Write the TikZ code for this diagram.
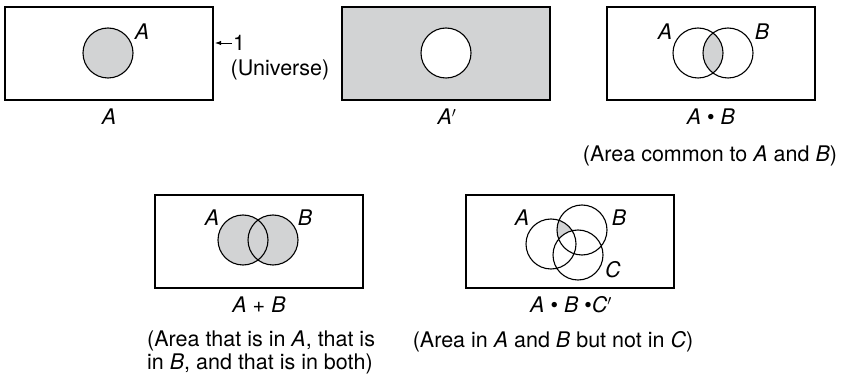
\documentclass[tikz,border=0pt]{standalone}
\usepackage{fontspec}
\setmainfont{TeX Gyre Heros}
\usetikzlibrary{arrows.meta,positioning}
\definecolor{ShadeGray}{RGB}{210,211,212}
\tikzset{
  >=Latex,
  univ/.style={draw,line width=1.1pt,minimum width=208pt,minimum height=93pt,inner sep=0pt},
  venn/.style={draw,line width=1.1pt},
  setlbl/.style={font=\fontsize{21.5}{23}\selectfont\itshape,inner sep=1pt},
  formula/.style={font=\fontsize{21.5}{23}\selectfont,inner sep=1pt},
  note/.style={font=\fontsize{21.5}{23}\selectfont,inner sep=1pt,align=left},
  pointer/.style={<-,line width=.9pt,>={Latex[length=6pt,width=4.5pt]},shorten <=1.5pt}
}
\newcommand{\rad}{25pt}

\begin{document}
\begin{tikzpicture}[x=1pt,y=-1pt]
  \useasboundingbox (0,0) rectangle (841,382);
  % top row
  \node[univ] (box1) at (109,53.5) {};
  \node[univ,fill=ShadeGray] (box2) at (446,53.5) {};
  \node[univ] (box3) at (711,53.5) {};
  % bottom row
  \node[univ] (box4) at (259,241.5) {};
  \node[univ] (box5) at (570,241.5) {};

  % A
  \coordinate (a1) at (108,53);
  \draw[venn,fill=ShadeGray] (a1) circle[radius=\rad];
  \node[setlbl] (la1) at (142,32) {A};
  \node[formula] (one) at (239,43) {1};
  \draw[pointer] (box1.east |- one) -- (one.west);
  \node[formula] (uni) at (280,70) {(Universe)};
  \node[setlbl] (f1) at (109,117) {A};

  % A'
  \coordinate (a2) at (446,53);
  \draw[venn,fill=white] (a2) circle[radius=\rad];
  \node[formula] (f2) at (447,117) {\textit{A}$'$};

  % A.B
  \coordinate (a3) at (698,53);
  \coordinate (b3) at (728,53);
  \begin{scope}
    \clip (a3) circle[radius=\rad];
    \fill[ShadeGray] (b3) circle[radius=\rad];
  \end{scope}
  \draw[venn] (a3) circle[radius=\rad] (b3) circle[radius=\rad];
  \node[setlbl] (la3) at (665,32) {A};
  \node[setlbl] (lb3) at (762,32) {B};
  \node[formula] (f3) at (711,117) {\textit{A} • \textit{B}};
  \node[formula] (n3) at (710,156) {(Area common to \textit{A} and \textit{B})};

  % A+B
  \coordinate (a4) at (243,240);
  \coordinate (b4) at (273,240);
  \fill[ShadeGray] (a4) circle[radius=\rad] (b4) circle[radius=\rad];
  \draw[venn] (a4) circle[radius=\rad] (b4) circle[radius=\rad];
  \node[setlbl] (la4) at (212,218) {A};
  \node[setlbl] (lb4) at (305,218) {B};
  \node[formula] (f4) at (259,305) {\textit{A} + \textit{B}};
  \node[note,anchor=north west] (n4) at (146,330) {(Area that is in \textit{A}, that is\\in \textit{B}, and that is in both)};

  % A.B.C'
  \coordinate (a5) at (551,244);
  \coordinate (b5) at (582,230);
  \coordinate (c5) at (578,255);
  \begin{scope}
    \clip (a5) circle[radius=\rad];
    \fill[ShadeGray] (b5) circle[radius=\rad];
  \end{scope}
  \fill[white] (c5) circle[radius=\rad];
  \draw[venn] (a5) circle[radius=\rad] (b5) circle[radius=\rad] (c5) circle[radius=\rad];
  \node[setlbl] (la5) at (522,218) {A};
  \node[setlbl] (lb5) at (619,218) {B};
  \node[setlbl] (lc5) at (613,270) {C};
  \node[formula] (f5) at (571,305) {\textit{A} • \textit{B} •\textit{C}$'$};
  \node[formula] (n5) at (553,342) {(Area in \textit{A} and \textit{B} but not in \textit{C})};
\end{tikzpicture}
\end{document}
